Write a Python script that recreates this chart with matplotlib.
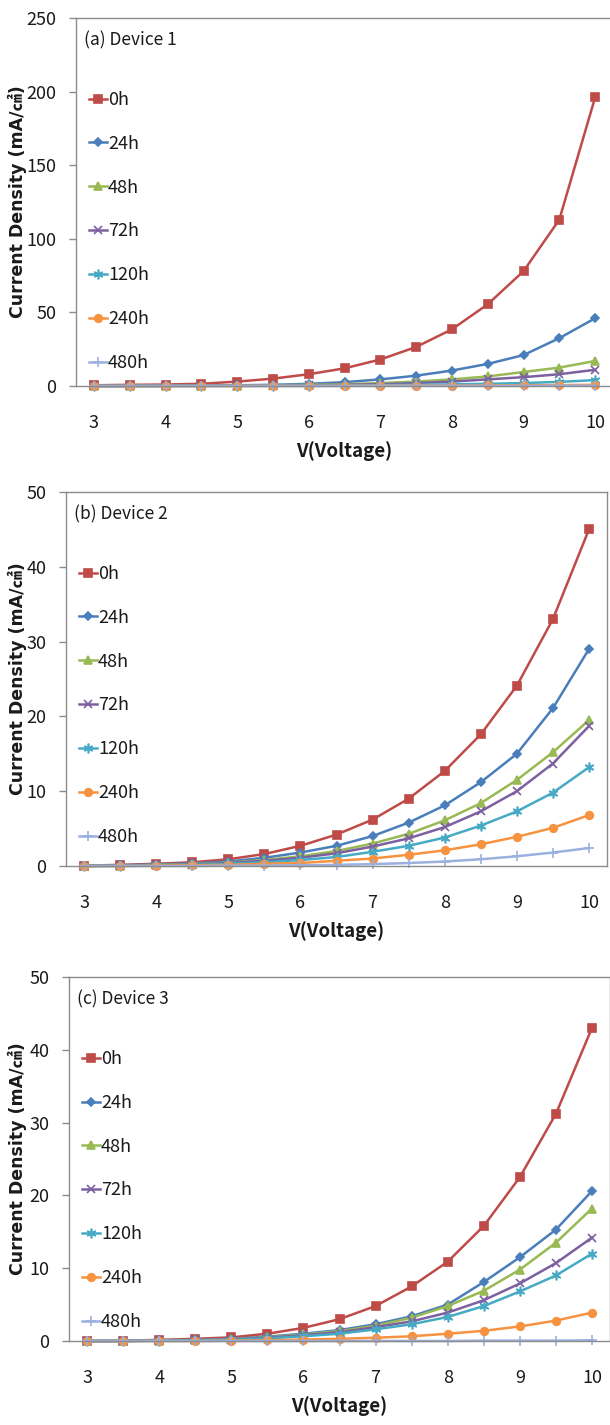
import matplotlib
matplotlib.use("Agg")
import matplotlib.pyplot as plt
from matplotlib.lines import Line2D

plt.rcParams['font.family'] = ['Noto Sans CJK KR', 'DejaVu Sans']

# Applied voltage (V)
voltage = [3, 3.5, 4, 4.5, 5, 5.5, 6, 6.5, 7, 7.5, 8, 8.5, 9, 9.5, 10]
aging_labels = ["0h", "24h", "48h", "72h", "120h", "240h", "480h"]

# Device 1 current density (mA/cm2)
dev1_0h   = [0.5, 0.8, 1.0, 1.5, 3.0, 5.0, 8.0, 12.0, 18.0, 26.5, 38.5, 55.5, 78.0, 113.0, 196.0]
dev1_24h  = [0.0, 0.1, 0.2, 0.3, 0.5, 0.8, 1.5, 2.6, 4.5, 7.0, 10.5, 15.0, 21.0, 32.5, 46.0]
dev1_48h  = [0.0, 0.0, 0.1, 0.2, 0.3, 0.5, 0.8, 1.2, 2.0, 3.0, 4.5, 6.5, 9.5, 12.5, 17.0]
dev1_72h  = [0.0, 0.0, 0.1, 0.1, 0.2, 0.3, 0.5, 0.8, 1.2, 2.0, 3.0, 4.5, 6.0, 8.0, 11.0]
dev1_120h = [0.0, 0.0, 0.0, 0.1, 0.1, 0.2, 0.3, 0.4, 0.6, 0.8, 1.1, 1.5, 2.0, 2.8, 4.0]
dev1_240h = [0.0, 0.0, 0.0, 0.0, 0.1, 0.1, 0.1, 0.2, 0.2, 0.3, 0.3, 0.4, 0.5, 0.6, 0.8]
dev1_480h = [0.0, 0.0, 0.0, 0.0, 0.0, 0.0, 0.0, 0.0, 0.1, 0.1, 0.1, 0.1, 0.1, 0.2, 0.2]

# Device 2 current density (mA/cm2)
dev2_0h   = [0.05, 0.15, 0.3, 0.5, 0.9, 1.6, 2.7, 4.2, 6.2, 9.0, 12.7, 17.6, 24.1, 33.0, 45.0]
dev2_24h  = [0.0, 0.1, 0.2, 0.35, 0.6, 1.1, 1.8, 2.7, 4.0, 5.8, 8.1, 11.2, 15.0, 21.1, 29.0]
dev2_48h  = [0.0, 0.05, 0.15, 0.25, 0.45, 0.8, 1.3, 2.0, 3.0, 4.3, 6.1, 8.4, 11.5, 15.2, 19.5]
dev2_72h  = [0.0, 0.05, 0.1, 0.2, 0.4, 0.7, 1.1, 1.7, 2.6, 3.7, 5.2, 7.3, 10.0, 13.7, 18.7]
dev2_120h = [0.0, 0.0, 0.1, 0.15, 0.3, 0.5, 0.8, 1.2, 1.9, 2.7, 3.8, 5.4, 7.3, 9.8, 13.2]
dev2_240h = [0.0, 0.0, 0.05, 0.1, 0.15, 0.3, 0.4, 0.7, 1.0, 1.5, 2.1, 2.9, 3.9, 5.1, 6.8]
dev2_480h = [0.0, 0.0, 0.0, 0.0, 0.05, 0.05, 0.1, 0.15, 0.25, 0.4, 0.6, 0.9, 1.3, 1.8, 2.4]

# Device 3 current density (mA/cm2)
dev3_0h   = [0.0, 0.05, 0.15, 0.3, 0.5, 1.0, 1.8, 3.0, 4.8, 7.5, 10.9, 15.8, 22.5, 31.2, 43.0]
dev3_24h  = [0.0, 0.0, 0.1, 0.15, 0.3, 0.6, 1.0, 1.5, 2.3, 3.4, 5.0, 8.1, 11.5, 15.3, 20.6]
dev3_48h  = [0.0, 0.0, 0.05, 0.1, 0.25, 0.5, 0.9, 1.35, 2.1, 3.2, 4.8, 6.9, 9.8, 13.5, 18.2]
dev3_72h  = [0.0, 0.0, 0.05, 0.1, 0.2, 0.45, 0.8, 1.2, 1.9, 2.7, 3.9, 5.6, 7.9, 10.7, 14.2]
dev3_120h = [0.0, 0.0, 0.05, 0.1, 0.15, 0.35, 0.65, 1.0, 1.6, 2.3, 3.3, 4.8, 6.8, 9.0, 12.0]
dev3_240h = [0.0, 0.0, 0.0, 0.0, 0.05, 0.1, 0.2, 0.3, 0.45, 0.65, 1.0, 1.4, 2.0, 2.8, 3.9]
dev3_480h = [0.0, 0.0, 0.0, 0.0, 0.0, 0.0, 0.0, 0.0, 0.0, 0.0, 0.0, 0.05, 0.05, 0.05, 0.1]

colors = ["#BE4B48", "#4A7EBB", "#98B954", "#7D60A0", "#46AAC5", "#F69240", "#9BB0DE"]
markers = ["s", "D", "^", "x", (6, 2, 0), "o", "+"]
msizes = [5.5, 4.5, 6, 6, 7, 5.5, 7]

panels = [
    ("(a) Device 1", [dev1_0h, dev1_24h, dev1_48h, dev1_72h, dev1_120h, dev1_240h, dev1_480h],
     250, [0, 50, 100, 150, 200, 250], (76, 18, 613, 386)),
    ("(b) Device 2", [dev2_0h, dev2_24h, dev2_48h, dev2_72h, dev2_120h, dev2_240h, dev2_480h],
     50, [0, 10, 20, 30, 40, 50], (66, 492, 607, 866)),
    ("(c) Device 3", [dev3_0h, dev3_24h, dev3_48h, dev3_72h, dev3_120h, dev3_240h, dev3_480h],
     50, [0, 10, 20, 30, 40, 50], (69, 977, 610, 1341)),
]

W, H = 610, 1425
fig = plt.figure(figsize=(W / 100, H / 100), dpi=100)
spine_col = "#8C8C8C"
text_col = "#1A1A1A"

for title, series, ymax, yticks, (l, t, r, b) in panels:
    ax = fig.add_axes([l / W, 1 - b / H, (r - l) / W, (b - t) / H])
    for vals, lab, c, m, ms in zip(series, aging_labels, colors, markers, msizes):
        ax.plot(voltage, vals, color=c, lw=1.8, marker=m, ms=ms,
                mfc=c, mec=c, mew=1.2, label=lab, clip_on=False)
    ax.set_xlim(2.75, 10.25)
    ax.set_ylim(0, ymax)
    ax.set_xticks(range(3, 11))
    ax.set_yticks(yticks)
    for s in ax.spines.values():
        s.set_color(spine_col)
        s.set_linewidth(1.0)
    ax.tick_params(axis="y", direction="out", length=5, width=1, color=spine_col,
                   labelsize=13, pad=9, labelcolor=text_col)
    ax.tick_params(axis="x", length=0, labelsize=13, pad=20, labelcolor=text_col)
    ax.set_xlabel("V(Voltage)", fontsize=13.5, fontweight="bold", labelpad=7,
                  color=text_col)
    ax.set_ylabel("Current Density (mA/㎠)", fontsize=12.5, fontweight="bold",
                  color=text_col, va="center",
                  family=["DejaVu Sans", "Noto Sans CJK KR"])
    ax.yaxis.set_label_coords((17 - l) / (r - l), 0.5)
    ax.text(8 / (r - l), 1 - 22 / (b - t), title, transform=ax.transAxes,
            fontsize=12.5, va="center", ha="left", color=text_col)
    handles = [Line2D([], [], color=c, lw=1.8, marker=m, ms=ms, mfc=c, mec=c, mew=1.2)
               for c, m, ms in zip(colors, markers, msizes)]
    leg = ax.legend(handles, aging_labels, loc="upper left",
                    bbox_to_anchor=(13 / (r - l), 1 - 73 / (b - t)), frameon=False,
                    fontsize=13, handlelength=1.0, handletextpad=0.05,
                    labelspacing=1.43, borderaxespad=0, borderpad=0)
    for txt in leg.get_texts():
        txt.set_color(text_col)

fig.savefig("out.png", dpi=100)
